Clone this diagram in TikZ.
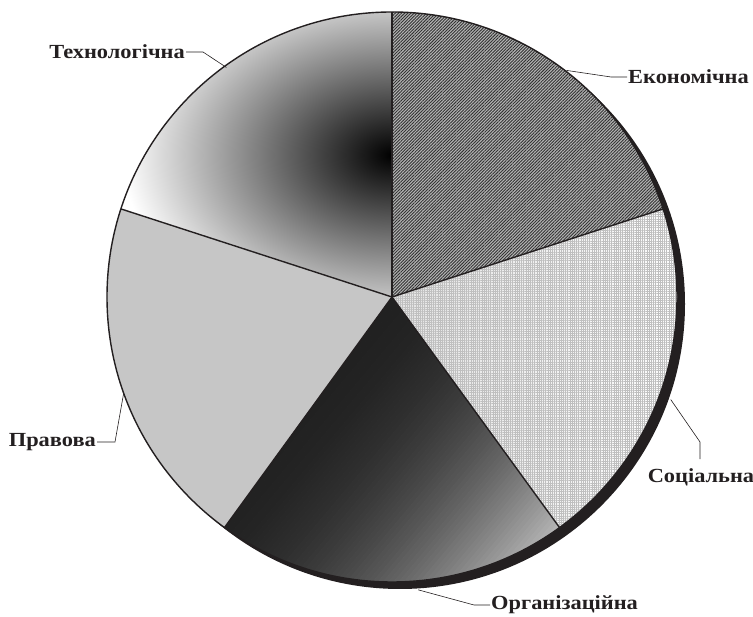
\documentclass[tikz,border=0pt]{standalone}
\usepackage{fontspec}
\setmainfont{Liberation Serif}
\newfontfamily\lblfont{Liberation Serif}[FakeStretch=1.12]
\usetikzlibrary{patterns.meta,calc}
\definecolor{ink}{RGB}{35,31,32}
\begin{document}
\begin{tikzpicture}[x=1pt,y=1pt,
  lbl/.style={font=\lblfont\bfseries\fontsize{20}{23}\selectfont, text=ink, inner sep=1pt},
  leader/.style={draw=ink, line width=0.6pt},
  sliceedge/.style={draw=ink, line width=1.4pt, line join=round}]
\useasboundingbox (0,0) rectangle (753,617);
\coordinate (C) at (392,320);
\def\R{285}
% shadow
\fill[ink] ($(C)+(8,-7)$) circle (\R);
\fill[white] (C) circle (\R);
% Економічна
\path[preaction={fill=gray!58}, pattern={Lines[angle=45,distance=2.2pt,line width=0.9pt]}, pattern color=black!80]
  (C) -- ($(C)+(18:\R)$) arc[start angle=18,end angle=90,radius=\R] -- cycle;
% Соціальна
\shade[left color=gray!22, right color=white]
  (C) -- ($(C)+(-54:\R)$) arc[start angle=-54,end angle=18,radius=\R] -- cycle;
\path[pattern={Hatch[angle=0,distance=2.2pt,line width=0.5pt]}, pattern color=gray!50]
  (C) -- ($(C)+(-54:\R)$) arc[start angle=-54,end angle=18,radius=\R] -- cycle;
% Організаційна
\begin{scope}
\clip (C) -- ($(C)+(-126:\R)$) arc[start angle=-126,end angle=-54,radius=\R] -- cycle;
\begin{scope}[shift={(C)}, rotate=-40]
\foreach \i in {-5,...,85} {
  \pgfmathsetmacro\d{max(\i*4+2,0)}
  \pgfmathsetmacro\v{min(0.8, 0.13 + 0.076*(\d/100)^2)}
  \pgfmathsetmacro\k{100*(1-\v)}
  \fill[black!\k] (\i*4,-420) rectangle (\i*4+4.6,420);
}
\end{scope}
\end{scope}
% Правова
\path[preaction={fill=gray!32}, pattern={Dots[distance=2pt,radius=0.6pt]}, pattern color=gray!85]
  (C) -- ($(C)+(162:\R)$) arc[start angle=162,end angle=234,radius=\R] -- cycle;
% Технологічна
\begin{scope}
\clip (C) -- ($(C)+(90:\R)$) arc[start angle=90,end angle=162,radius=\R] -- cycle;
\fill[white] (C) circle (\R);
\shade[inner color=black, outer color=white] (392,462) ellipse (270 and 185);
\end{scope}
% edges
\foreach \a in {18,90,162,234,306}
  \draw[sliceedge] (C) -- ($(C)+(\a:\R)$);
\draw[ink, line width=1.4pt] (C) circle (\R);
% labels
\node[lbl, anchor=west] (econ) at (627,540) {Економічна};
\node[lbl] (soc) at (701,140) {Соціальна};
\node[lbl, anchor=west] (org) at (490,12) {Організаційна};
\node[lbl, anchor=east] (prav) at (97,175) {Правова};
\node[lbl, anchor=east] (tech) at (186,565) {Технологічна};
% leader anchors
\coordinate (e1) at ($(C)+(52.4:286)$);
\coordinate (s1) at ($(C)+(-20.2:297)$);
\coordinate (s2) at (700,175);
\coordinate (o1) at ($(C)+(-84.9:294)$);
\coordinate (p1) at ($(C)+(199.7:285)$);
\coordinate (t1) at ($(C)+(125.8:283)$);
\draw[leader] (econ.west) -- ++(-16,0) -- (e1);
\draw[leader] (s1) -- (s2) -- ([yshift=8pt]s2 |- soc.north);
\draw[leader] (org.west) -- ++(-16,0) -- (o1);
\draw[leader] (prav.east) -- ++(18,0) -- (p1);
\draw[leader] (tech.east) -- ++(17,0) -- (t1);
\end{tikzpicture}
\end{document}
